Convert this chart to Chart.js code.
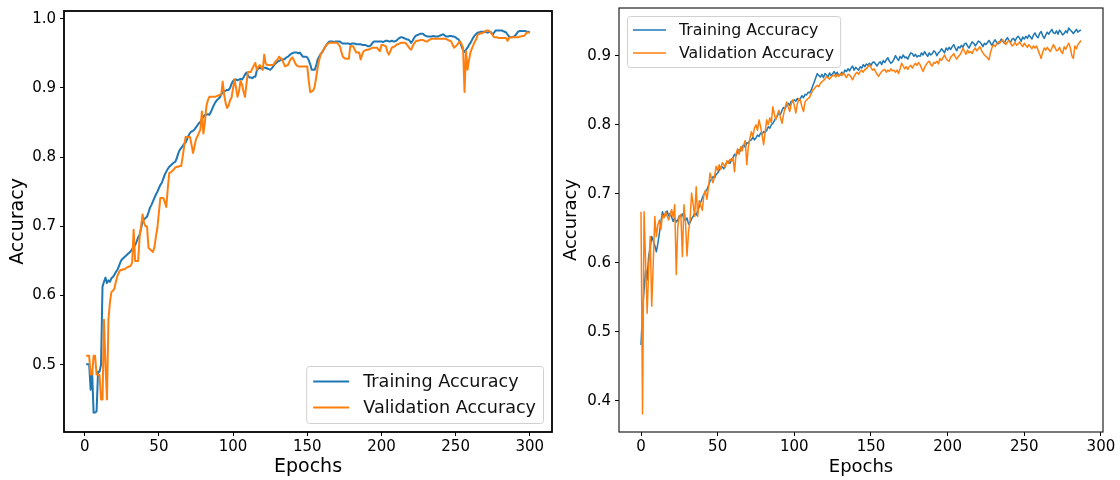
<!DOCTYPE html>
<html>
<head>
<meta charset="utf-8">
<title>Accuracy curves</title>
<script src="https://cdn.jsdelivr.net/npm/chart.js@4.4.0/dist/chart.umd.min.js"></script>
<style>
  html, body { margin: 0; padding: 0; background: #fff; }
  #wrap { position: relative; width: 1120px; height: 480px; overflow: hidden; }
  canvas { position: absolute; top: 0; }
  #accLeft { left: 0; }
  #accRight { left: 560px; }
</style>
</head>
<body>
<div id="wrap">
  <canvas id="accLeft" width="560" height="480"></canvas>
  <canvas id="accRight" width="560" height="480"></canvas>
</div>
<script>
// #-------------- Data --------------#

const seriesLabels = ['Training Accuracy', 'Validation Accuracy'];
const xTicks = [0, 50, 100, 150, 200, 250, 300];
const leftYTicks = [0.5, 0.6, 0.7, 0.8, 0.9, 1.0];
const rightYTicks = [0.4, 0.5, 0.6, 0.7, 0.8, 0.9];

// first run, epochs 1..300
const leftFirstEpoch = 1;
const leftTrainAcc = [
  0.501, 0.501, 0.501, 0.464, 0.490, 0.431, 0.431, 0.433, 0.490, 0.490,
  0.500, 0.613, 0.620, 0.626, 0.618, 0.622, 0.620, 0.625, 0.627, 0.630,
  0.634, 0.637, 0.642, 0.648, 0.652, 0.654, 0.656, 0.658, 0.660, 0.662,
  0.664, 0.667, 0.670, 0.673, 0.678, 0.684, 0.688, 0.697, 0.707, 0.710,
  0.712, 0.714, 0.720, 0.727, 0.731, 0.736, 0.741, 0.746, 0.750, 0.755,
  0.760, 0.763, 0.769, 0.775, 0.779, 0.783, 0.786, 0.788, 0.790, 0.792,
  0.793, 0.798, 0.805, 0.810, 0.813, 0.816, 0.819, 0.821, 0.826, 0.831,
  0.835, 0.837, 0.838, 0.840, 0.843, 0.846, 0.849, 0.851, 0.855, 0.858,
  0.861, 0.861, 0.862, 0.861, 0.865, 0.870, 0.875, 0.879, 0.882, 0.884,
  0.886, 0.890, 0.894, 0.895, 0.896, 0.897, 0.897, 0.900, 0.906, 0.910,
  0.912, 0.912, 0.911, 0.912, 0.913, 0.912, 0.915, 0.919, 0.922, 0.918,
  0.915, 0.915, 0.914, 0.916, 0.916, 0.925, 0.928, 0.929, 0.928, 0.929,
  0.929, 0.929, 0.928, 0.927, 0.926, 0.928, 0.931, 0.934, 0.936, 0.938,
  0.939, 0.940, 0.941, 0.941, 0.942, 0.944, 0.945, 0.947, 0.949, 0.950,
  0.951, 0.951, 0.951, 0.950, 0.951, 0.948, 0.945, 0.945, 0.945, 0.944,
  0.940, 0.934, 0.926, 0.926, 0.926, 0.932, 0.941, 0.945, 0.949, 0.951,
  0.955, 0.959, 0.962, 0.965, 0.967, 0.967, 0.967, 0.966, 0.967, 0.967,
  0.967, 0.967, 0.965, 0.964, 0.964, 0.964, 0.964, 0.964, 0.963, 0.964,
  0.964, 0.964, 0.963, 0.963, 0.963, 0.963, 0.962, 0.962, 0.962, 0.961,
  0.960, 0.960, 0.962, 0.965, 0.967, 0.967, 0.967, 0.967, 0.967, 0.967,
  0.966, 0.967, 0.968, 0.968, 0.967, 0.967, 0.968, 0.967, 0.967, 0.968,
  0.970, 0.972, 0.973, 0.973, 0.972, 0.971, 0.970, 0.970, 0.968, 0.965,
  0.968, 0.972, 0.975, 0.976, 0.977, 0.978, 0.978, 0.978, 0.976, 0.975,
  0.974, 0.974, 0.974, 0.974, 0.975, 0.974, 0.974, 0.974, 0.975, 0.976,
  0.977, 0.977, 0.975, 0.974, 0.974, 0.975, 0.975, 0.974, 0.974, 0.973,
  0.971, 0.970, 0.966, 0.960, 0.955, 0.952, 0.955, 0.958, 0.962, 0.965,
  0.969, 0.973, 0.976, 0.978, 0.980, 0.980, 0.981, 0.981, 0.981, 0.981,
  0.980, 0.980, 0.981, 0.980, 0.977, 0.980, 0.983, 0.983, 0.983, 0.983,
  0.983, 0.982, 0.981, 0.980, 0.977, 0.974, 0.973, 0.973, 0.974, 0.975,
  0.978, 0.981, 0.982, 0.982, 0.982, 0.982, 0.982, 0.981, 0.981, 0.980
];
const leftValAcc = [
  0.513, 0.513, 0.513, 0.486, 0.486, 0.513, 0.513, 0.486, 0.486, 0.485,
  0.450, 0.450, 0.565, 0.500, 0.450, 0.565, 0.590, 0.605, 0.607, 0.610,
  0.620, 0.628, 0.633, 0.637, 0.637, 0.638, 0.638, 0.640, 0.641, 0.642,
  0.643, 0.648, 0.695, 0.650, 0.650, 0.650, 0.684, 0.700, 0.717, 0.705,
  0.700, 0.700, 0.669, 0.667, 0.665, 0.663, 0.670, 0.685, 0.698, 0.720,
  0.741, 0.741, 0.741, 0.735, 0.728, 0.755, 0.777, 0.778, 0.780, 0.782,
  0.785, 0.786, 0.786, 0.787, 0.787, 0.800, 0.815, 0.829, 0.829, 0.829,
  0.829, 0.818, 0.806, 0.815, 0.826, 0.830, 0.835, 0.840, 0.866, 0.834,
  0.850, 0.873, 0.882, 0.887, 0.887, 0.887, 0.887, 0.887, 0.888, 0.889,
  0.890, 0.890, 0.909, 0.890, 0.878, 0.871, 0.875, 0.882, 0.886, 0.900,
  0.912, 0.900, 0.887, 0.895, 0.910, 0.905, 0.895, 0.887, 0.905, 0.923,
  0.923, 0.923, 0.928, 0.932, 0.936, 0.926, 0.930, 0.933, 0.930, 0.926,
  0.948, 0.935, 0.933, 0.933, 0.933, 0.933, 0.933, 0.936, 0.939, 0.941,
  0.945, 0.943, 0.941, 0.936, 0.931, 0.932, 0.933, 0.938, 0.942, 0.944,
  0.940, 0.935, 0.932, 0.931, 0.931, 0.931, 0.931, 0.931, 0.931, 0.931,
  0.910, 0.894, 0.895, 0.896, 0.902, 0.915, 0.929, 0.940, 0.948, 0.952,
  0.955, 0.959, 0.962, 0.964, 0.965, 0.965, 0.965, 0.965, 0.965, 0.965,
  0.963, 0.960, 0.952, 0.945, 0.943, 0.942, 0.942, 0.942, 0.960, 0.960,
  0.960, 0.955, 0.951, 0.951, 0.951, 0.941, 0.948, 0.953, 0.954, 0.955,
  0.955, 0.956, 0.957, 0.958, 0.958, 0.958, 0.958, 0.955, 0.953, 0.962,
  0.962, 0.961, 0.960, 0.952, 0.948, 0.953, 0.958, 0.959, 0.960, 0.962,
  0.963, 0.964, 0.965, 0.965, 0.965, 0.965, 0.963, 0.960, 0.957, 0.955,
  0.960, 0.964, 0.967, 0.968, 0.968, 0.969, 0.969, 0.969, 0.968, 0.967,
  0.967, 0.969, 0.970, 0.971, 0.971, 0.971, 0.971, 0.971, 0.971, 0.971,
  0.971, 0.971, 0.971, 0.970, 0.969, 0.968, 0.967, 0.962, 0.958, 0.960,
  0.962, 0.965, 0.967, 0.963, 0.958, 0.894, 0.953, 0.926, 0.940, 0.951,
  0.957, 0.962, 0.967, 0.971, 0.977, 0.978, 0.979, 0.979, 0.980, 0.982,
  0.983, 0.983, 0.981, 0.979, 0.976, 0.973, 0.973, 0.973, 0.972, 0.972,
  0.972, 0.972, 0.972, 0.972, 0.968, 0.972, 0.973, 0.973, 0.973, 0.973,
  0.973, 0.973, 0.974, 0.974, 0.975, 0.975, 0.977, 0.980, 0.980, 0.980
];

// second run, epochs 0..287
const rightFirstEpoch = 0;
const rightTrainAcc = [
  0.481, 0.530, 0.561, 0.590, 0.575, 0.610, 0.622, 0.638, 0.632, 0.625,
  0.616, 0.628, 0.643, 0.660, 0.674, 0.666, 0.670, 0.675, 0.668, 0.672,
  0.666, 0.660, 0.665, 0.659, 0.662, 0.668, 0.667, 0.671, 0.663, 0.661,
  0.665, 0.656, 0.658, 0.664, 0.667, 0.672, 0.669, 0.676, 0.681, 0.688,
  0.694, 0.699, 0.703, 0.706, 0.712, 0.718, 0.721, 0.725, 0.723, 0.728,
  0.730, 0.734, 0.737, 0.739, 0.736, 0.742, 0.745, 0.747, 0.744, 0.750,
  0.752, 0.757, 0.755, 0.761, 0.764, 0.762, 0.768, 0.771, 0.767, 0.774,
  0.773, 0.777, 0.778, 0.782, 0.778, 0.781, 0.785, 0.783, 0.788, 0.786,
  0.790, 0.789, 0.792, 0.797, 0.795, 0.800, 0.802, 0.806, 0.810, 0.813,
  0.817, 0.815, 0.821, 0.825, 0.823, 0.829, 0.831, 0.828, 0.834, 0.833,
  0.836, 0.834, 0.838, 0.835, 0.838, 0.842, 0.839, 0.844, 0.843, 0.847,
  0.846, 0.850, 0.856, 0.862, 0.868, 0.874, 0.871, 0.869, 0.873, 0.868,
  0.874, 0.872, 0.869, 0.875, 0.871, 0.874, 0.877, 0.873, 0.876, 0.871,
  0.872, 0.876, 0.874, 0.879, 0.877, 0.881, 0.878, 0.882, 0.885, 0.879,
  0.883, 0.881, 0.879, 0.884, 0.882, 0.887, 0.884, 0.888, 0.886, 0.889,
  0.886, 0.890, 0.891, 0.888, 0.885, 0.889, 0.891, 0.887, 0.893, 0.890,
  0.894, 0.897, 0.892, 0.889, 0.891, 0.895, 0.900, 0.896, 0.893, 0.899,
  0.896, 0.901, 0.897, 0.898, 0.895, 0.900, 0.904, 0.903, 0.899, 0.902,
  0.898, 0.900, 0.899, 0.904, 0.901, 0.906, 0.902, 0.899, 0.904, 0.901,
  0.903, 0.907, 0.905, 0.900, 0.904, 0.906, 0.910, 0.907, 0.904, 0.911,
  0.908, 0.912, 0.909, 0.913, 0.916, 0.911, 0.907, 0.913, 0.911, 0.915,
  0.912, 0.917, 0.918, 0.914, 0.911, 0.916, 0.920, 0.918, 0.914, 0.917,
  0.921, 0.920, 0.917, 0.913, 0.918, 0.916, 0.919, 0.922, 0.918, 0.915,
  0.920, 0.923, 0.919, 0.917, 0.920, 0.924, 0.921, 0.918, 0.923, 0.926,
  0.922, 0.919, 0.924, 0.925, 0.921, 0.926, 0.928, 0.925, 0.921, 0.927,
  0.924, 0.928, 0.925, 0.930, 0.927, 0.924, 0.930, 0.933, 0.928, 0.926,
  0.932, 0.935, 0.929, 0.925, 0.930, 0.934, 0.931, 0.935, 0.938, 0.933,
  0.932, 0.936, 0.931, 0.937, 0.934, 0.930, 0.932, 0.936, 0.933, 0.940,
  0.937, 0.935, 0.932, 0.935, 0.938, 0.934, 0.936, 0.937
];
const rightValAcc = [
  0.674, 0.381, 0.674, 0.600, 0.527, 0.590, 0.638, 0.537, 0.600, 0.667,
  0.638, 0.655, 0.662, 0.648, 0.669, 0.665, 0.674, 0.668, 0.662, 0.670,
  0.677, 0.666, 0.684, 0.583, 0.652, 0.668, 0.670, 0.609, 0.684, 0.660,
  0.610, 0.645, 0.662, 0.701, 0.685, 0.667, 0.710, 0.667, 0.690, 0.683,
  0.676, 0.698, 0.705, 0.692, 0.708, 0.730, 0.722, 0.716, 0.726, 0.740,
  0.733, 0.742, 0.735, 0.745, 0.742, 0.738, 0.748, 0.744, 0.750, 0.747,
  0.752, 0.732, 0.758, 0.765, 0.757, 0.768, 0.762, 0.771, 0.777, 0.742,
  0.768, 0.780, 0.790, 0.783, 0.795, 0.800, 0.792, 0.807, 0.797, 0.785,
  0.771, 0.790, 0.807, 0.800, 0.810, 0.803, 0.826, 0.815, 0.807, 0.815,
  0.821, 0.810, 0.802, 0.815, 0.825, 0.833, 0.826, 0.819, 0.830, 0.836,
  0.828, 0.817, 0.830, 0.838, 0.835, 0.826, 0.819, 0.833, 0.836, 0.838,
  0.840, 0.845, 0.850, 0.852, 0.855, 0.857, 0.855, 0.860, 0.862, 0.864,
  0.866, 0.870, 0.868, 0.866, 0.869, 0.871, 0.872, 0.869, 0.873, 0.870,
  0.874, 0.871, 0.875, 0.872, 0.868, 0.873, 0.872, 0.869, 0.865, 0.870,
  0.874, 0.876, 0.873, 0.877, 0.879, 0.876, 0.880, 0.881, 0.884, 0.887,
  0.883, 0.879, 0.881, 0.877, 0.873, 0.870, 0.874, 0.877, 0.879, 0.880,
  0.876, 0.879, 0.877, 0.881, 0.878, 0.879, 0.876, 0.879, 0.874, 0.881,
  0.889, 0.885, 0.881, 0.884, 0.880, 0.884, 0.886, 0.882, 0.886, 0.889,
  0.886, 0.890, 0.887, 0.882, 0.877, 0.883, 0.887, 0.890, 0.892, 0.887,
  0.885, 0.890, 0.889, 0.892, 0.888, 0.896, 0.893, 0.897, 0.901, 0.896,
  0.893, 0.892, 0.898, 0.900, 0.903, 0.898, 0.895, 0.899, 0.901, 0.905,
  0.911, 0.906, 0.902, 0.908, 0.904, 0.906, 0.903, 0.908, 0.911, 0.907,
  0.910, 0.913, 0.908, 0.904, 0.901, 0.899, 0.897, 0.894, 0.905, 0.912,
  0.916, 0.913, 0.917, 0.920, 0.918, 0.921, 0.923, 0.919, 0.916, 0.920,
  0.922, 0.918, 0.914, 0.916, 0.919, 0.915, 0.917, 0.920, 0.916, 0.913,
  0.918, 0.915, 0.912, 0.916, 0.913, 0.910, 0.914, 0.911, 0.914, 0.908,
  0.902, 0.896, 0.905, 0.911, 0.908, 0.912, 0.909, 0.906, 0.911, 0.916,
  0.912, 0.907, 0.908, 0.912, 0.906, 0.903, 0.913, 0.909, 0.914, 0.918,
  0.912, 0.900, 0.896, 0.914, 0.910, 0.916, 0.919, 0.922
];

// #-------------- Shared styling --------------#

const FONT = 'DejaVu Sans';
const BLUE = '#1f77b4';
const ORANGE = '#ff7f0e';

// turn an accuracy list into {x, y} points starting at the given epoch
function toPoints(values, firstEpoch) {
    return values.map((v, i) => ({ x: firstEpoch + i, y: v }));
}

// full box around the plot area, drawn over the lines like matplotlib spines
const frameBox = {
    id: 'frameBox',
    afterDatasetsDraw(chart, args, opts) {
        const { ctx, chartArea: a } = chart;
        ctx.save();
        ctx.strokeStyle = opts.color;
        ctx.lineWidth = opts.width;
        ctx.strokeRect(a.left, a.top, a.right - a.left, a.bottom - a.top);
        ctx.restore();
    }
};

// framed legend tucked into one corner of the plot area
const boxLegend = {
    id: 'boxLegend',
    afterDraw(chart, args, opts) {
        const { ctx, chartArea: a } = chart;
        const sets = chart.data.datasets;
        ctx.save();
        ctx.font = `${opts.fontSize}px "${FONT}"`;
        const textW = Math.max(...sets.map(d => ctx.measureText(d.label).width));
        const w = opts.pad + opts.sample + opts.gap + textW + opts.pad;
        const h = sets.length * opts.rowHeight + 5;
        const x = opts.corner === 'bottom-right' ? a.right - opts.margin - w : a.left + opts.margin;
        const y = opts.corner === 'bottom-right' ? a.bottom - opts.margin - h : a.top + opts.margin;

        ctx.beginPath();
        ctx.roundRect(x + 0.5, y + 0.5, w, h, 3);
        ctx.fillStyle = 'rgba(255,255,255,0.8)';
        ctx.fill();
        ctx.strokeStyle = '#d0d0d0';
        ctx.lineWidth = 1;
        ctx.stroke();

        sets.forEach((d, i) => {
            const cy = y + 2.5 + opts.rowHeight * (i + 0.5);
            ctx.beginPath();
            ctx.moveTo(x + opts.pad, cy);
            ctx.lineTo(x + opts.pad + opts.sample, cy);
            ctx.strokeStyle = d.borderColor;
            ctx.lineWidth = d.borderWidth;
            ctx.stroke();
            ctx.fillStyle = '#111';
            ctx.textBaseline = 'middle';
            ctx.textAlign = 'left';
            ctx.fillText(d.label, x + opts.pad + opts.sample + opts.gap, cy + 1);
        });
        ctx.restore();
    }
};

function makeChart(canvasId, cfg) {
    const tickStyle = { size: 15, family: FONT };
    return new Chart(document.getElementById(canvasId), {
        type: 'line',
        data: {
            datasets: [{
                label: seriesLabels[0],
                data: toPoints(cfg.train, cfg.firstEpoch),
                borderColor: BLUE,
                borderWidth: cfg.lineWidth,
                order: 1,
            }, {
                label: seriesLabels[1],
                data: toPoints(cfg.val, cfg.firstEpoch),
                borderColor: ORANGE,
                borderWidth: cfg.lineWidth,
                order: 0,
            }]
        },
        options: {
            responsive: false,
            animation: false,
            devicePixelRatio: 1,
            layout: { padding: cfg.padding },
            elements: {
                point: { radius: 0 },
                line: { tension: 0, borderJoinStyle: 'round', fill: false }
            },
            plugins: {
                legend: { display: false },
                tooltip: { enabled: false },
                frameBox: cfg.frame,
                boxLegend: cfg.legend
            },
            scales: {
                x: {
                    type: 'linear',
                    min: cfg.xMin,
                    max: cfg.xMax,
                    afterBuildTicks: s => { s.ticks = xTicks.map(v => ({ value: v })); },
                    afterFit: s => { s.height = cfg.xAxisHeight; s.paddingLeft = 0; s.paddingRight = 0; },
                    ticks: { font: tickStyle, color: '#000', padding: 2, maxRotation: 0, autoSkip: false },
                    grid: { drawOnChartArea: false, drawTicks: true, tickLength: 4, tickColor: '#000' },
                    border: { display: false },
                    title: {
                        display: true, text: 'Epochs', color: '#000',
                        font: { size: cfg.xTitleSize, family: FONT },
                        padding: { top: 0, bottom: 2 }
                    }
                },
                y: {
                    min: cfg.yMin,
                    max: cfg.yMax,
                    afterBuildTicks: s => { s.ticks = cfg.yTicks.map(v => ({ value: v })); },
                    afterFit: s => { s.width = cfg.yAxisWidth; s.paddingTop = 0; s.paddingBottom = 0; },
                    ticks: { font: tickStyle, color: '#000', padding: 4, callback: v => v.toFixed(1) },
                    grid: { drawOnChartArea: false, drawTicks: true, tickLength: 4, tickColor: '#000' },
                    border: { display: false },
                    title: {
                        display: true, text: 'Accuracy', color: '#000',
                        font: { size: cfg.yTitleSize, family: FONT },
                        padding: { top: cfg.yTitlePad, bottom: 0 }
                    }
                }
            }
        },
        plugins: [frameBox, boxLegend]
    });
}

// #-------------- Charts --------------#

window.addEventListener('load', () => {
    makeChart('accLeft', {
        train: leftTrainAcc, val: leftValAcc, firstEpoch: leftFirstEpoch,
        lineWidth: 2,
        xMin: -13.95, xMax: 314.95, yMin: 0.403, yMax: 1.011, yTicks: leftYTicks,
        padding: { left: 0, right: 8, top: 11, bottom: 0 },
        yAxisWidth: 64, xAxisHeight: 48,
        xTitleSize: 19, yTitleSize: 19, yTitlePad: 7,
        frame: { color: '#000', width: 1.8 },
        legend: { corner: 'bottom-right', fontSize: 17.6, rowHeight: 26, pad: 7, sample: 36, gap: 14, margin: 9 }
    });

    makeChart('accRight', {
        train: rightTrainAcc, val: rightValAcc, firstEpoch: rightFirstEpoch,
        lineWidth: 1.5,
        xMin: -14.35, xMax: 301.35, yMin: 0.355, yMax: 0.969, yTicks: rightYTicks,
        padding: { left: 0, right: 17, top: 8, bottom: 0 },
        yAxisWidth: 59, xAxisHeight: 48,
        xTitleSize: 18, yTitleSize: 18, yTitlePad: 1,
        frame: { color: '#222', width: 1.2 },
        legend: { corner: 'top-left', fontSize: 15.8, rowHeight: 23, pad: 6, sample: 33, gap: 13, margin: 8 }
    });
});
</script>
</body>
</html>
